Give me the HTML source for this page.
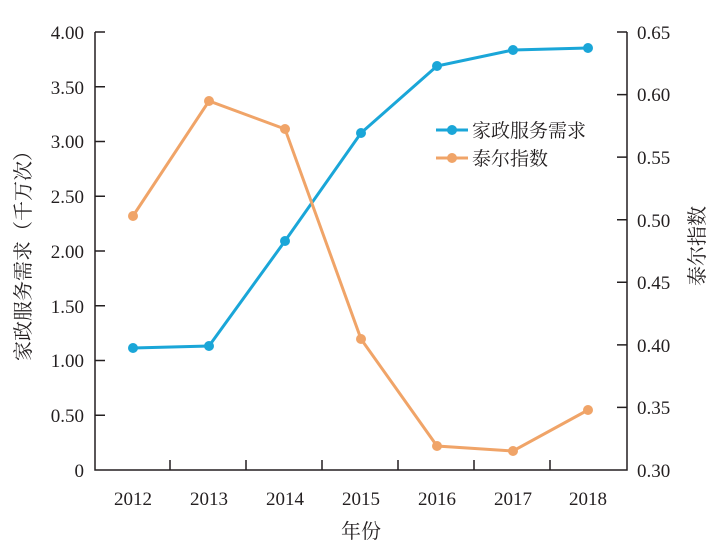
<!DOCTYPE html><html><head><meta charset="utf-8"><style>body{margin:0;background:#fff}</style></head><body>
<svg width="719" height="555" xmlns="http://www.w3.org/2000/svg" font-family="Liberation Serif, Noto Serif CJK SC, serif" fill="#231f20">
<g stroke="#231f20" stroke-width="1.5" fill="none">
<polyline points="95,32 95,470 627,470 627,32"/>
<path d="M170,470v-10M246,470v-10M322,470v-10M398,470v-10M474,470v-10M550,470v-10"/>
<path d="M95,32h10M95,86.75h10M95,141.5h10M95,196.25h10M95,251h10M95,305.75h10M95,360.5h10M95,415.25h10"/>
<path d="M627,32h-10M627,94.6h-10M627,157.1h-10M627,219.7h-10M627,282.3h-10M627,344.9h-10M627,407.4h-10"/>
</g>
<g font-size="19" text-anchor="end">
<text x="84" y="39">4.00</text><text x="84" y="94">3.50</text><text x="84" y="148">3.00</text><text x="84" y="203">2.50</text><text x="84" y="258">2.00</text><text x="84" y="313">1.50</text><text x="84" y="367">1.00</text><text x="84" y="422">0.50</text><text x="84" y="477">0</text>
</g>
<g font-size="19">
<text x="637" y="39">0.65</text><text x="637" y="101">0.60</text><text x="637" y="164">0.55</text><text x="637" y="227">0.50</text><text x="637" y="289">0.45</text><text x="637" y="352">0.40</text><text x="637" y="414">0.35</text><text x="637" y="477">0.30</text>
</g>
<g font-size="19" text-anchor="middle">
<text x="133" y="505">2012</text><text x="209" y="505">2013</text><text x="285" y="505">2014</text><text x="361" y="505">2015</text><text x="437" y="505">2016</text><text x="513" y="505">2017</text><text x="588" y="505">2018</text>
<text x="361" y="538" font-size="20">年份</text>
<text transform="translate(30,251) rotate(-90)" font-size="20">家政服务需求（千万次）</text>
<text transform="translate(704,246) rotate(-90)" font-size="20">泰尔指数</text>
</g>
<g stroke="#1aa6d8" fill="#1aa6d8" stroke-width="3">
<polyline fill="none" points="133,348 209,346 285,241 361,133 437,66 513,50 588,48"/>
<g stroke="none"><circle cx="133" cy="348" r="5"/><circle cx="209" cy="346" r="5"/><circle cx="285" cy="241" r="5"/><circle cx="361" cy="133" r="5"/><circle cx="437" cy="66" r="5"/><circle cx="513" cy="50" r="5"/><circle cx="588" cy="48" r="5"/></g>
<line x1="436" y1="130" x2="468" y2="130"/><circle cx="452" cy="130" r="5" stroke="none"/>
</g>
<g stroke="#f0a468" fill="#f0a468" stroke-width="3">
<polyline fill="none" points="133,216 209,101 285,129 361,339 437,446 513,451 588,410"/>
<g stroke="none"><circle cx="133" cy="216" r="5"/><circle cx="209" cy="101" r="5"/><circle cx="285" cy="129" r="5"/><circle cx="361" cy="339" r="5"/><circle cx="437" cy="446" r="5"/><circle cx="513" cy="451" r="5"/><circle cx="588" cy="410" r="5"/></g>
<line x1="436" y1="158" x2="468" y2="158"/><circle cx="452" cy="158" r="5" stroke="none"/>
</g>
<g font-size="19"><text x="472" y="137">家政服务需求</text><text x="472" y="165">泰尔指数</text></g>
</svg></body></html>
